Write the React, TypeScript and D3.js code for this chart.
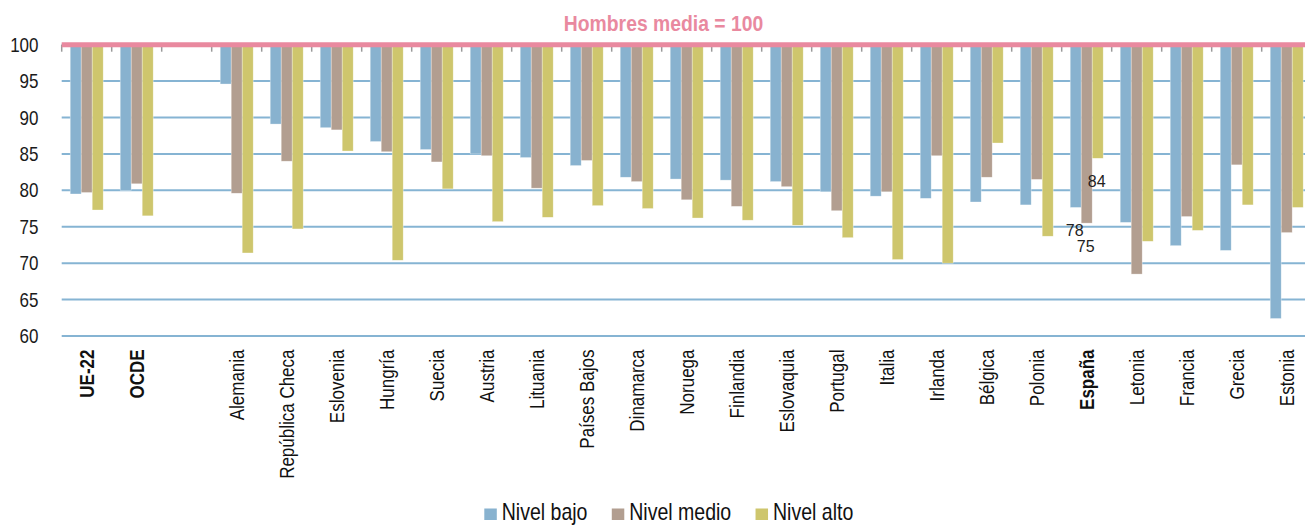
import React, { useEffect, useRef } from "react";
import * as d3 from "d3";

const categories = ["UE-22", "OCDE", "", "Alemania", "República Checa", "Eslovenia", "Hungría", "Suecia", "Austria", "Lituania", "Países Bajos", "Dinamarca", "Noruega", "Finlandia", "Eslovaquia", "Portugal", "Italia", "Irlanda", "Bélgica", "Polonia", "España", "Letonia", "Francia", "Grecia", "Estonia"];
const boldCategories = ["UE-22", "OCDE", "España"];
const nivelBajo = [79.5, 80.0, null, 94.6, 89.1, 88.6, 86.7, 85.6, 85.0, 84.5, 83.4, 81.8, 81.55, 81.4, 81.2, 79.8, 79.2, 78.9, 78.4, 78.0, 77.65, 75.6, 72.4, 71.75, 62.4];
const nivelMedio = [79.7, 80.9, null, 79.6, 84.0, 88.3, 85.3, 83.9, 84.75, 80.3, 84.1, 81.2, 78.7, 77.8, 80.5, 77.2, 79.8, 84.75, 81.8, 81.5, 75.5, 68.5, 76.4, 83.5, 74.2];
const nivelAlto = [77.3, 76.5, null, 71.4, 74.7, 85.4, 70.4, 80.2, 75.7, 76.3, 77.9, 77.5, 76.2, 75.9, 75.2, 73.5, 70.5, 70.0, 86.5, 73.7, 84.4, 73.0, 74.5, 78.0, 77.65];
const seriesNames = ["Nivel bajo", "Nivel medio", "Nivel alto"];
const seriesColors = ["#88b2cf", "#b29e90", "#cec66d"];
const labeledCategory = "España";
const labeledValues = [78, 75, 84];
const yTicks = [60, 65, 70, 75, 80, 85, 90, 95, 100];
const referenceValue = 100;
const title = "Hombres media = 100";

const W = 1305;
const H = 526;
const FONT = "'Liberation Sans', Arial, Helvetica, sans-serif";
const SQ = 0.85;

export default function App() {
  const ref = useRef<SVGSVGElement | null>(null);

  useEffect(() => {
    const svg = d3.select(ref.current);
    svg.selectAll("*").remove();

    const left = 61.7;
    const x = d3.scaleBand<string>().domain(categories.map((c, i) => c || `__${i}`)).range([left, left + 50 * categories.length]).padding(0);
    const xs = d3.scaleBand<string>().domain(seriesNames).range([8.5, 41.5]).padding(0);
    const y = d3.scaleLinear().domain([60, 100]).range([336, 44.7]);
    const key = (i: number) => categories[i] || `__${i}`;

    // gridlines
    svg.append("g").selectAll("line").data(yTicks).join("line")
      .attr("x1", left).attr("x2", W)
      .attr("y1", (d) => y(d)).attr("y2", (d) => y(d))
      .attr("stroke", "#86b4d3").attr("stroke-width", 2);

    // y tick labels
    svg.append("g").selectAll("g").data(yTicks).join("g")
      .attr("transform", (d) => `translate(38.5,${y(d)}) scale(${SQ},1)`)
      .append("text")
      .attr("text-anchor", "end").attr("dy", "0.35em")
      .attr("font-family", FONT).attr("font-size", 20).attr("fill", "#1a1a1a")
      .text((d) => d);

    // bars
    const series = [nivelBajo, nivelMedio, nivelAlto];
    series.forEach((vals, si) => {
      svg.append("g").selectAll("rect")
        .data(vals.map((v, i) => ({ v, i })).filter((d) => d.v != null))
        .join("rect")
        .attr("x", (d) => (x(key(d.i)) as number) + (xs(seriesNames[si]) as number))
        .attr("width", xs.bandwidth())
        .attr("y", y(referenceValue))
        .attr("height", (d) => y(d.v as number) - y(referenceValue))
        .attr("fill", seriesColors[si])
        .attr("stroke", "rgba(255,255,255,0.55)").attr("stroke-width", 0.6);
    });

    // tick marks at top axis
    const bounds = d3.range(categories.length + 1).map((i) => left + i * x.step());
    svg.append("g").selectAll("line").data(bounds).join("line")
      .attr("x1", (d) => d).attr("x2", (d) => d)
      .attr("y1", y(referenceValue)).attr("y2", y(referenceValue) + 7)
      .attr("stroke", "#9a9a9a").attr("stroke-width", 1.5);

    // reference line
    svg.append("line")
      .attr("x1", left).attr("x2", W)
      .attr("y1", y(referenceValue)).attr("y2", y(referenceValue))
      .attr("stroke", "#e9899f").attr("stroke-width", 5);

    // title
    svg.append("g").attr("transform", `translate(663.5,31) scale(0.86,1)`)
      .append("text").attr("text-anchor", "middle")
      .attr("font-family", FONT).attr("font-size", 22.5).attr("font-weight", "bold")
      .attr("fill", "#e9899f").text(title);

    // category labels
    svg.append("g").selectAll("g").data(categories.map((c, i) => ({ c, i })).filter((d) => d.c))
      .join("g")
      .attr("transform", (d) => `translate(${(x(key(d.i)) as number) + x.bandwidth() / 2},349.5) rotate(-90) scale(${SQ},1)`)
      .append("text")
      .attr("text-anchor", "end").attr("dy", "0.35em")
      .attr("font-family", FONT).attr("font-size", 20)
      .attr("font-weight", (d) => (boldCategories.includes(d.c) ? "bold" : "normal"))
      .attr("fill", "#111").text((d) => d.c);

    // data labels for España
    const li = categories.indexOf(labeledCategory);
    svg.append("g").selectAll("text").data(labeledValues.map((v, si) => ({ v, si })))
      .join("text")
      .attr("x", (d) => (x(key(li)) as number) + (xs(seriesNames[d.si]) as number) + xs.bandwidth() / 2 - 1)
      .attr("y", (d) => y(series[d.si][li] as number) + 28.5)
      .attr("text-anchor", "middle")
      .attr("font-family", FONT).attr("font-size", 16).attr("fill", "#222")
      .text((d) => d.v);

    // legend
    const lg = svg.append("g").attr("transform", "translate(484.3,520)");
    let cx = 0;
    seriesNames.forEach((name, si) => {
      lg.append("rect").attr("x", cx).attr("y", -11.5).attr("width", 12.5).attr("height", 11.5).attr("fill", seriesColors[si]);
      const tg = lg.append("g").attr("transform", `translate(${cx + 17.4},0) scale(${SQ},1)`);
      const t = tg.append("text").attr("font-family", FONT).attr("font-size", 23).attr("fill", "#111").text(name);
      const w = (t.node() as SVGTextElement).getComputedTextLength() * SQ;
      cx += 17.4 + w + 24.3;
    });
  }, []);

  return (
    <svg ref={ref} width={W} height={H} style={{ position: "absolute", left: 0, top: 0, display: "block", overflow: "hidden", background: "#fff" }} />
  );
}
